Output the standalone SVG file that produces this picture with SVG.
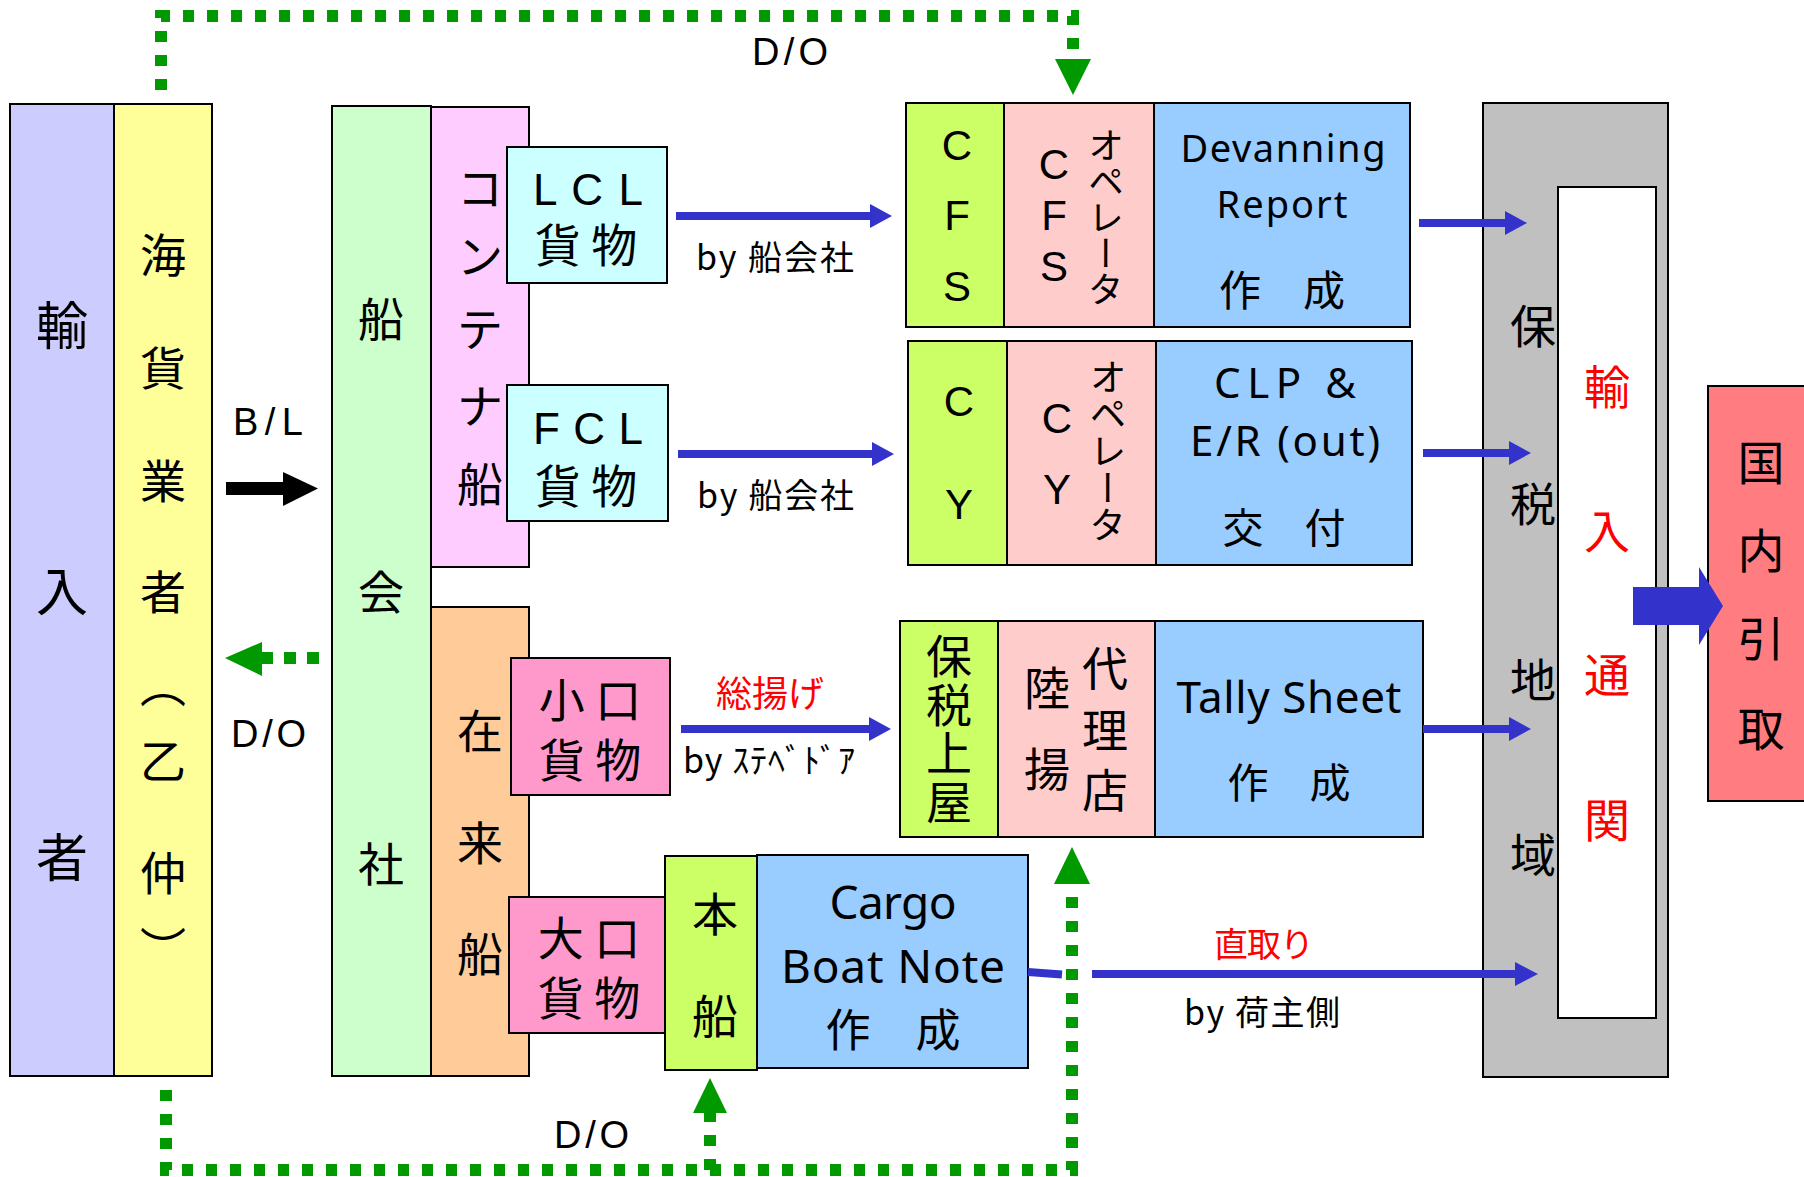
<svg xmlns="http://www.w3.org/2000/svg" width="1804" height="1177" viewBox="0 0 1804 1177">
<style>
.bx{stroke:#000;stroke-width:2}
.j{font-family:"Noto Sans CJK JP","Noto Sans CJK SC",sans-serif;font-size:46px;text-anchor:middle;fill:#000}
.l{font-family:"Liberation Sans",Arial,sans-serif;text-anchor:middle;fill:#000}
.n{font-family:"Noto Sans","DejaVu Sans",sans-serif;text-anchor:middle;fill:#000}
.lab{font-family:"Noto Sans CJK JP",sans-serif;font-size:34px;fill:#000}
.red{fill:#ff0000}
.v{font-family:"Noto Sans CJK JP",sans-serif;font-size:36px;writing-mode:vertical-rl;fill:#000}
.g{fill:none;stroke:#009900;stroke-width:12;stroke-dasharray:11 13}
.gh{fill:#009900}
.bl{stroke:#3333cc;stroke-width:8;fill:none}
.bh{fill:#3333cc}
</style>
<rect width="1804" height="1177" fill="#fff"/>

<g id="importer">
<rect class="bx" x="10" y="104" width="104" height="972" fill="#ccccff"/>
<text class="j" style="font-size:52px" x="62" y="345">輸</text>
<text class="j" style="font-size:52px" x="62" y="611">入</text>
<text class="j" style="font-size:52px" x="62" y="877">者</text>
</g>

<g id="forwarder">
<rect class="bx" x="114" y="104" width="98" height="972" fill="#ffff99"/>
<text class="j" x="163" y="272">海</text>
<text class="j" x="163" y="385">貨</text>
<text class="j" x="163" y="498">業</text>
<text class="j" x="163" y="609">者</text>
<text class="v" style="font-size:46px" x="163" y="662">（</text>
<text class="j" x="163" y="778">乙</text>
<text class="j" x="163" y="890">仲</text>
<text class="v" style="font-size:46px" x="163" y="926">）</text>
</g>

<g id="shipping-company">
<rect class="bx" x="332" y="106" width="99" height="970" fill="#ccffcc"/>
<text class="j" x="381" y="336">船</text>
<text class="j" x="381" y="609">会</text>
<text class="j" x="381" y="881">社</text>
</g>

<g id="container-ship">
<rect class="bx" x="431" y="107" width="98" height="460" fill="#ffccff"/>
<text class="j" x="480" y="205">コ</text>
<text class="j" x="480" y="273">ン</text>
<text class="j" x="480" y="346">テ</text>
<text class="j" x="480" y="423">ナ</text>
<text class="j" x="480" y="501">船</text>
</g>

<g id="conventional-ship">
<rect class="bx" x="431" y="607" width="98" height="469" fill="#ffcc99"/>
<text class="j" x="480" y="748">在</text>
<text class="j" x="480" y="860">来</text>
<text class="j" x="480" y="971">船</text>
</g>

<g id="lcl">
<rect class="bx" x="507" y="147" width="160" height="136" fill="#ccffff"/>
<text class="l" style="font-size:44px" x="588" y="205" textLength="110">L C L</text>
<text class="j" x="586" y="262">貨 物</text>
</g>

<g id="fcl">
<rect class="bx" x="507" y="385" width="161" height="136" fill="#ccffff"/>
<text class="l" style="font-size:44px" x="588" y="444" textLength="110">F C L</text>
<text class="j" x="586" y="503">貨 物</text>
</g>

<g id="small-lot">
<rect class="bx" x="511" y="658" width="159" height="137" fill="#ff99cc"/>
<text class="j" x="590" y="717">小 口</text>
<text class="j" x="590" y="777">貨 物</text>
</g>

<g id="large-lot">
<rect class="bx" x="509" y="897" width="160" height="136" fill="#ff99cc"/>
<text class="j" x="589" y="955">大 口</text>
<text class="j" x="589" y="1015">貨 物</text>
</g>

<g id="main-vessel">
<rect class="bx" x="665" y="856" width="92" height="214" fill="#ccff66"/>
<text class="j" x="715" y="931">本</text>
<text class="j" x="715" y="1033">船</text>
</g>

<g id="cargo-boat-note">
<rect class="bx" x="757" y="855" width="271" height="213" fill="#99ccff"/>
<text class="n" style="font-size:46px" x="893" y="919" textLength="127">Cargo</text>
<text class="n" style="font-size:46px" x="893" y="983" textLength="224">Boat Note</text>
<text class="j" style="font-size:45px" x="893" y="1047">作　成</text>
</g>

<g id="cfs">
<rect class="bx" x="906" y="103" width="98" height="224" fill="#ccff66"/>
<rect class="bx" x="1004" y="103" width="150" height="224" fill="#ffcccc"/>
<rect class="bx" x="1154" y="103" width="256" height="224" fill="#99ccff"/>
<text class="l" style="font-size:42px" x="957" y="160">C</text>
<text class="l" style="font-size:42px" x="957" y="230">F</text>
<text class="l" style="font-size:42px" x="957" y="301">S</text>
<text class="l" style="font-size:42px" x="1054" y="179">C</text>
<text class="l" style="font-size:42px" x="1054" y="230">F</text>
<text class="l" style="font-size:42px" x="1054" y="281">S</text>
<text class="v" x="1106" y="127">オペレータ</text>
<text class="n" style="font-size:38px" x="1283" y="162" textLength="205">Devanning</text>
<text class="n" style="font-size:38px" x="1282" y="218" textLength="131">Report</text>
<text class="j" style="font-size:42px" x="1282" y="306">作　成</text>
</g>

<g id="cy">
<rect class="bx" x="908" y="341" width="99" height="224" fill="#ccff66"/>
<rect class="bx" x="1007" y="341" width="149" height="224" fill="#ffcccc"/>
<rect class="bx" x="1156" y="341" width="256" height="224" fill="#99ccff"/>
<text class="l" style="font-size:42px" x="959" y="416">C</text>
<text class="l" style="font-size:42px" x="959" y="519">Y</text>
<text class="l" style="font-size:42px" x="1057" y="433">C</text>
<text class="l" style="font-size:42px" x="1057" y="504">Y</text>
<text class="v" style="font-size:37px" x="1108" y="358">オペレータ</text>
<text class="n" style="font-size:42px" x="1285" y="398" textLength="142">CLP &amp;</text>
<text class="n" style="font-size:42px" x="1285" y="456" textLength="190">E/R (out)</text>
<text class="j" style="font-size:41px" x="1284" y="543">交　付</text>
</g>

<g id="bonded-shed">
<rect class="bx" x="900" y="621" width="98" height="216" fill="#ccff66"/>
<rect class="bx" x="998" y="621" width="157" height="216" fill="#ffcccc"/>
<rect class="bx" x="1155" y="621" width="268" height="216" fill="#99ccff"/>
<text class="v" style="font-size:46px;letter-spacing:2.5px" x="949" y="633">保税上屋</text>
<text class="j" x="1047" y="705">陸</text>
<text class="j" x="1047" y="786">揚</text>
<text class="j" x="1105" y="685">代</text>
<text class="j" x="1105" y="747">理</text>
<text class="j" x="1105" y="807">店</text>
<text class="n" style="font-size:44px" x="1289" y="713" textLength="225">Tally Sheet</text>
<text class="j" style="font-size:41px" x="1289" y="798">作　成</text>
</g>

<g id="bonded-area">
<rect class="bx" x="1483" y="103" width="185" height="974" fill="#c0c0c0"/>
<text class="j" x="1533" y="343">保</text>
<text class="j" x="1533" y="521">税</text>
<text class="j" x="1533" y="697">地</text>
<text class="j" x="1533" y="872">域</text>
</g>

<g id="customs-clearance">
<rect class="bx" x="1558" y="187" width="98" height="831" fill="#ffffff"/>
<text class="j red" x="1607" y="404">輸</text>
<text class="j red" x="1607" y="548">入</text>
<text class="j red" x="1607" y="692">通</text>
<text class="j red" x="1607" y="837">関</text>
</g>

<g id="domestic-pickup">
<rect class="bx" x="1708" y="386" width="110" height="415" fill="#ff7c80"/>
<text class="j" style="font-size:47px" x="1761" y="480">国</text>
<text class="j" style="font-size:47px" x="1761" y="568">内</text>
<text class="j" style="font-size:47px" x="1761" y="656">引</text>
<text class="j" style="font-size:47px" x="1761" y="746">取</text>
</g>

<g id="connectors">
<rect x="226" y="482" width="58" height="13" fill="#000"/>
<polygon points="283,472 318,488.5 283,506" fill="#000"/>
<text class="l" style="font-size:38px;text-anchor:start" x="233" y="435" textLength="70">B/L</text>
<path class="g" d="M319,658 H262" style="stroke-dasharray:12 11"/>
<polygon class="gh" points="262,642 262,676 225,658"/>
<text class="l" style="font-size:38px;text-anchor:start" x="231" y="747" textLength="75">D/O</text>
<path class="g" d="M161,90 V16 H1073 V60"/>
<polygon class="gh" points="1055,59 1091,59 1073,95"/>
<text class="l" style="font-size:38px;text-anchor:start" x="752" y="65" textLength="76">D/O</text>
<path class="g" d="M166,1090 V1170 H1072 V884"/>
<polygon class="gh" points="1054,884 1090,884 1072,847"/>
<path class="g" d="M710,1170 V1112"/>
<polygon class="gh" points="693,1113 727,1113 710,1078"/>
<text class="l" style="font-size:38px;text-anchor:start" x="554" y="1148" textLength="75">D/O</text>
<path class="bl" d="M676,216 H872"/>
<polygon class="bh" points="870,204 892,216 870,228"/>
<text class="lab" x="696" y="270" textLength="158">by 船会社</text>
<path class="bl" d="M678,454 H874"/>
<polygon class="bh" points="872,442 894,454 872,466"/>
<text class="lab" x="697" y="508" textLength="157">by 船会社</text>
<path class="bl" d="M681,729 H871"/>
<polygon class="bh" points="869,717 891,729 869,741"/>
<text class="lab red" style="font-size:36px" x="716" y="707" textLength="108">総揚げ</text>
<text class="lab" x="683" y="773" textLength="172">by ｽﾃﾍﾞﾄﾞｱ</text>
<path class="bl" d="M1419,223 H1507"/>
<polygon class="bh" points="1505,211 1527,223 1505,235"/>
<path class="bl" d="M1423,453 H1511"/>
<polygon class="bh" points="1509,441 1531,453 1509,465"/>
<path class="bl" d="M1423,729 H1511"/>
<polygon class="bh" points="1509,717 1531,729 1509,741"/>
<path class="bl" d="M1028,972 L1062,974.5"/>
<path class="bl" d="M1092,974 H1518"/>
<polygon class="bh" points="1515,962 1538,974 1515,986"/>
<text class="lab red" x="1214" y="957" textLength="100">直取り</text>
<text class="lab" x="1184" y="1025" textLength="156">by 荷主側</text>
<polygon class="bh" points="1633,587 1699,587 1699,567 1723,606 1699,645 1699,625 1633,625"/>
</g>
</svg>
